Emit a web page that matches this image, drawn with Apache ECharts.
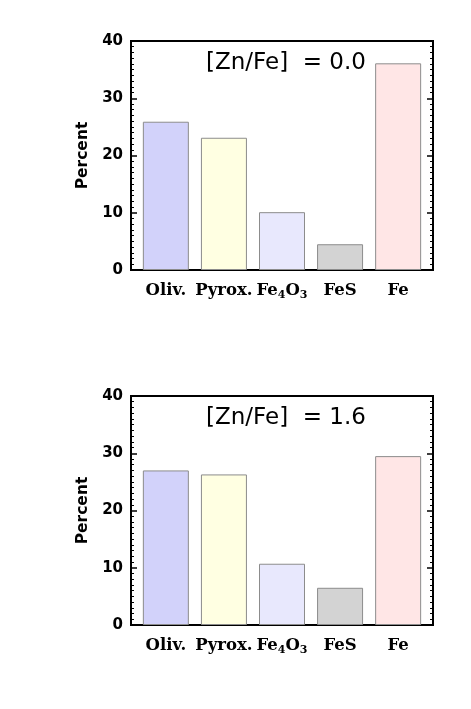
<!DOCTYPE html>
<html>
<head>
<meta charset="utf-8">
<script src="https://cdn.jsdelivr.net/npm/echarts@6/dist/echarts.min.js"></script>
<style>
  html, body { margin: 0; padding: 0; background: #fff; }
  #chart { width: 471px; height: 709px; }
</style>
</head>
<body>
<div id="chart"></div>
<script>
const categories = ["Oliv.", "Pyrox.", "Fe4O3", "FeS", "Fe"];
const barColors = ["#d2d2fa", "#ffffe2", "#e8e8fd", "#d3d3d3", "#ffe6e6"];
const valuesZn00 = [25.9, 23.1, 10.1, 4.5, 36.1];
const valuesZn16 = [27.0, 26.3, 10.7, 6.5, 29.5];
const titles = ["[Zn/Fe]  = 0.0", "[Zn/Fe]  = 1.6"];
const yTicks = [0, 10, 20, 30, 40];

let chart = echarts.init(document.getElementById("chart"));

const gridTops = [41, 396];

function labelFor(i) {
  if (categories[i] === "Fe4O3") return "{a|Fe}{s|4}{a|O}{s|3}";
  return "{a|" + categories[i] + "}";
}

let grids = [], xAxes = [], yAxes = [], series = [], titleList = [];
[valuesZn00, valuesZn16].forEach((vals, g) => {
  grids.push({
    left: 131, right: 38, top: gridTops[g], height: 229,
    show: true, borderColor: "#000", borderWidth: 2,
  });
  xAxes.push({
    gridIndex: g,
    type: "value",
    min: -0.6,
    max: 4.6,
    axisLine: { show: false, onZero: false },
    splitLine: { show: false },
    axisTick: {
      show: true, inside: true, length: 5,
      customValues: [0, 1, 2, 3, 4],
      lineStyle: { color: "#000", width: 1.5 },
    },
    axisLabel: {
      show: true,
      margin: 11,
      customValues: [0, 1, 2, 3, 4],
      formatter: (v) => labelFor(Math.round(v)),
      rich: {
        a: { fontFamily: "DejaVu Serif", fontWeight: "bold", fontSize: 16.5, color: "#000", lineHeight: 20 },
        s: { fontFamily: "DejaVu Serif", fontWeight: "bold", fontSize: 11, color: "#000", lineHeight: 20, verticalAlign: "bottom" },
      },
    },
  });
  const yBase = {
    gridIndex: g,
    type: "value",
    min: yTicks[0],
    max: yTicks[yTicks.length - 1],
    interval: 10,
    axisLine: { show: false, onZero: false },
    splitLine: { show: false },
    axisTick: { show: true, inside: true, length: 6, lineStyle: { color: "#000", width: 1.5 } },
    minorTick: { show: true, splitNumber: 10, length: 3, lineStyle: { color: "#000", width: 1 } },
  };
  yAxes.push(Object.assign({}, yBase, {
    position: "left",
    name: "Percent",
    nameLocation: "middle",
    nameGap: 40,
    nameTextStyle: { fontFamily: "DejaVu Sans", fontWeight: "bold", fontSize: 15.5, color: "#000" },
    axisLabel: { margin: 8, fontFamily: "DejaVu Sans", fontWeight: "bold", fontSize: 15, color: "#000" },
  }));
  yAxes.push(Object.assign({}, yBase, {
    position: "right",
    axisLabel: { show: false },
  }));
  series.push({
    type: "bar",
    xAxisIndex: g,
    yAxisIndex: g * 2,
    barWidth: 46,
    data: vals.map((v, i) => ({
      value: [i, v],
      itemStyle: { color: barColors[i], borderColor: "#8c8c8c", borderWidth: 1 },
    })),
  });
  titleList.push({
    text: titles[g],
    left: 206,
    top: gridTops[g] + 11,
    padding: 0,
    textStyle: { fontFamily: "DejaVu Sans", fontWeight: "normal", fontSize: 23, color: "#000" },
  });
});

let option = {
  animation: false,
  title: titleList,
  grid: grids,
  xAxis: xAxes,
  yAxis: yAxes,
  series,
};
chart.setOption(option);
</script>
</body>
</html>
